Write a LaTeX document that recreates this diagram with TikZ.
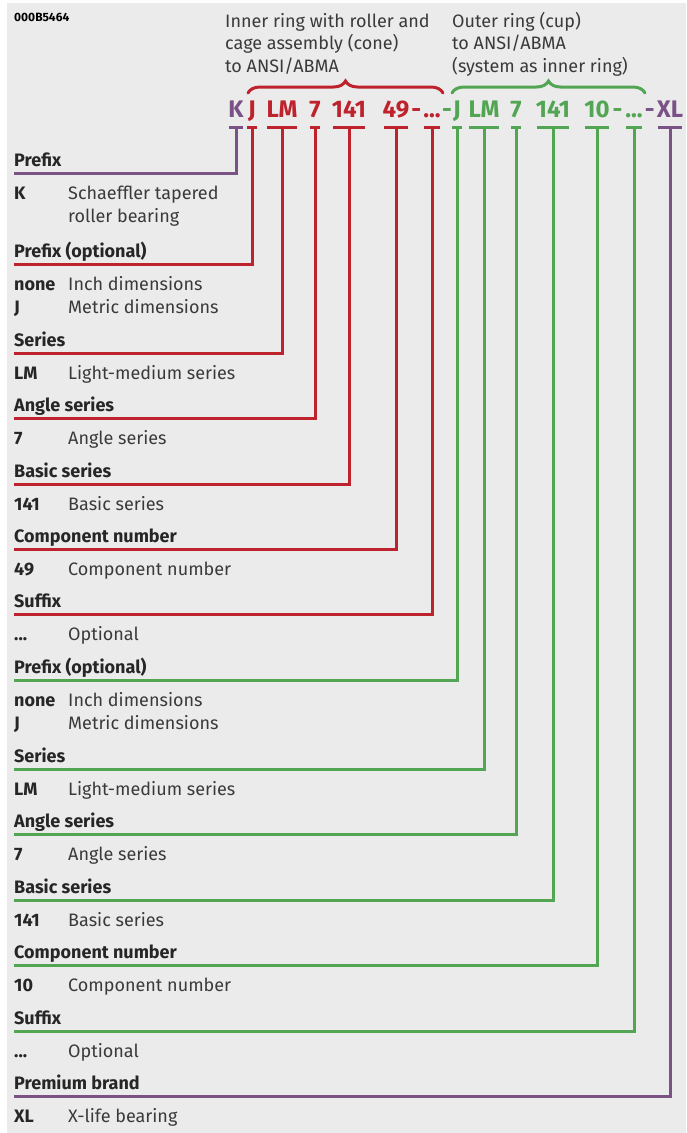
\documentclass[tikz,border=0pt]{standalone}
\usepackage{fontspec}
\setmainfont{Fira Sans}
\usetikzlibrary{positioning, calc, decorations.pathreplacing}

\definecolor{bgGray}{HTML}{EBEBEB}
\definecolor{txtDark}{HTML}{262626}
\definecolor{txtBody}{HTML}{3A3A3A}
\definecolor{ringRed}{HTML}{BE232D}
\definecolor{ringGreen}{HTML}{52A552}
\definecolor{brandPurple}{HTML}{7A5285}

\tikzset{
  tok/.style={font=\fontsize{24}{30}\selectfont\bfseries, inner sep=0pt, anchor=base, text height=17pt, text depth=0pt},
  head/.style={font=\fontsize{18}{23}\selectfont\bfseries, text=txtDark, inner sep=0pt, anchor=base west},
  key/.style={font=\fontsize{18}{23}\selectfont\bfseries, text=txtDark, inner sep=0pt, anchor=base west},
  desc/.style={font=\fontsize{18}{23}\selectfont, text=txtBody, inner sep=0pt, anchor=base west, align=left},
  note/.style={font=\fontsize{18}{22.5}\selectfont, text=txtBody, inner sep=0pt, anchor=base west, align=left},
  lead/.style={line width=3pt},
  curly/.style={line width=3pt, line cap=round, decorate, decoration={brace, amplitude=12pt}},
}

\begin{document}
\begin{tikzpicture}[x=1pt, y=-1pt]
\useasboundingbox (0,0) rectangle (686,1133);
\fill[bgGray] (7,3) rectangle (686,1133);

% drawing number
\node[font=\fontsize{12}{14}\selectfont\bfseries, inner sep=0pt, anchor=base west] (code) at (14,21) {000B5464};

% group texts and braces (base = last line)
\node[note] (innerTxt) at (225,72) {Inner ring with roller and\\cage assembly (cone)\\to ANSI/ABMA};
\node[note] (outerTxt) at (452,72) {Outer ring (cup)\\to ANSI/ABMA\\(system as inner ring)};
\draw[curly, ringRed] (248,93) -- (443,93);
\draw[curly, ringGreen] (452,93) -- (645,93);

% designation
\node[tok, brandPurple] (pK) at (236,117) {K};
\node[tok, ringRed] (iJ) at (252,117) {J};
\node[tok, ringRed] (iLM) at (282,117) {LM};
\node[tok, ringRed] (i7) at (315,117) {7};
\node[tok, ringRed] (i141) at (349,117) {141};
\node[tok, ringRed] (i49) at (396,117) {49};
\node[tok, ringRed] (iSfx) at (432,117) {...};
\node[tok, ringGreen] (oJ) at (457,117) {J};
\node[tok, ringGreen] (oLM) at (484,117) {LM};
\node[tok, ringGreen] (o7) at (516,117) {7};
\node[tok, ringGreen] (o141) at (553,117) {141};
\node[tok, ringGreen] (o10) at (597,117) {10};
\node[tok, ringGreen] (oSfx) at (634,117) {...};
\node[tok, brandPurple] (pXL) at (670,117) {XL};
\node[tok, ringRed] (dash1) at ($(i49.base east)!0.5!(iSfx.base west)$) {-};
\node[tok, ringGreen] (dash2) at ($(iSfx.base east)!0.5!(oJ.base west)$) {-};
\node[tok, ringGreen] (dash3) at ($(o10.base east)!0.5!(oSfx.base west)$) {-};
\node[tok, brandPurple] (dash4) at ($(oSfx.base east)!0.5!(pXL.base west)$) {-};

% legend: inner ring part
\node[head] (h1) at (14,166) {Prefix};
\node[key] (k1) at (14,199) {K};
\node[desc] (d1) at (68,222) {Schaeffler tapered\\roller bearing};

\node[head] (h2) at (14,257) {Prefix (optional)};
\node[key] (k2) at (14,290) {none};
\node[desc] (d2) at (68,290) {Inch dimensions};
\node[key] (k2b) at (14,313) {J};
\node[desc] (d2b) at (68,313) {Metric dimensions};

\node[head] (h3) at (14,346) {Series};
\node[key] (k3) at (14,379) {LM};
\node[desc] (d3) at (68,379) {Light-medium series};

\node[head] (h4) at (14,411) {Angle series};
\node[key] (k4) at (14,444) {7};
\node[desc] (d4) at (68,444) {Angle series};

\node[head] (h5) at (14,477) {Basic series};
\node[key] (k5) at (14,510) {141};
\node[desc] (d5) at (68,510) {Basic series};

\node[head] (h6) at (14,542) {Component number};
\node[key] (k6) at (14,575) {49};
\node[desc] (d6) at (68,575) {Component number};

\node[head] (h7) at (14,607) {Suffix};
\node[key] (k7) at (14,640) {...};
\node[desc] (d7) at (68,640) {Optional};

% legend: outer ring part
\node[head] (h8) at (14,673) {Prefix (optional)};
\node[key] (k8) at (14,706) {none};
\node[desc] (d8) at (68,706) {Inch dimensions};
\node[key] (k8b) at (14,729) {J};
\node[desc] (d8b) at (68,729) {Metric dimensions};

\node[head] (h9) at (14,762) {Series};
\node[key] (k9) at (14,795) {LM};
\node[desc] (d9) at (68,795) {Light-medium series};

\node[head] (h10) at (14,827) {Angle series};
\node[key] (k10) at (14,860) {7};
\node[desc] (d10) at (68,860) {Angle series};

\node[head] (h11) at (14,893) {Basic series};
\node[key] (k11) at (14,926) {141};
\node[desc] (d11) at (68,926) {Basic series};

\node[head] (h12) at (14,958) {Component number};
\node[key] (k12) at (14,991) {10};
\node[desc] (d12) at (68,991) {Component number};

\node[head] (h13) at (14,1024) {Suffix};
\node[key] (k13) at (14,1057) {...};
\node[desc] (d13) at (68,1057) {Optional};

\node[head] (h14) at (14,1089) {Premium brand};
\node[key] (k14) at (14,1122) {XL};
\node[desc] (d14) at (68,1122) {X-life bearing};

% underline bars and leader lines
\draw[lead, brandPurple] ([xshift=1pt,yshift=-10pt]pK.south west) -- ([xshift=-1pt,yshift=-10pt]pK.south east) ([yshift=-10pt]pK.south) |- ([yshift=-7pt]h1.base west);
\draw[lead, ringRed] ([xshift=-1pt,yshift=-10pt]iJ.south west) -- ([xshift=1pt,yshift=-10pt]iJ.south east) ([yshift=-10pt]iJ.south) |- ([yshift=-7pt]h2.base west);
\draw[lead, ringRed] ([xshift=1pt,yshift=-10pt]iLM.south west) -- ([xshift=-1pt,yshift=-10pt]iLM.south east) ([yshift=-10pt]iLM.south) |- ([yshift=-7pt]h3.base west);
\draw[lead, ringRed] ([xshift=1pt,yshift=-10pt]i7.south west) -- ([xshift=-1pt,yshift=-10pt]i7.south east) ([yshift=-10pt]i7.south) |- ([yshift=-7pt]h4.base west);
\draw[lead, ringRed] ([xshift=1pt,yshift=-10pt]i141.south west) -- ([xshift=-1pt,yshift=-10pt]i141.south east) ([yshift=-10pt]i141.south) |- ([yshift=-7pt]h5.base west);
\draw[lead, ringRed] ([xshift=1pt,yshift=-10pt]i49.south west) -- ([xshift=-1pt,yshift=-10pt]i49.south east) ([yshift=-10pt]i49.south) |- ([yshift=-7pt]h6.base west);
\draw[lead, ringRed] ([xshift=1pt,yshift=-10pt]iSfx.south west) -- ([xshift=-1pt,yshift=-10pt]iSfx.south east) ([yshift=-10pt]iSfx.south) |- ([yshift=-7pt]h7.base west);
\draw[lead, ringGreen] ([xshift=-1pt,yshift=-10pt]oJ.south west) -- ([xshift=1pt,yshift=-10pt]oJ.south east) ([yshift=-10pt]oJ.south) |- ([yshift=-7pt]h8.base west);
\draw[lead, ringGreen] ([xshift=1pt,yshift=-10pt]oLM.south west) -- ([xshift=-1pt,yshift=-10pt]oLM.south east) ([yshift=-10pt]oLM.south) |- ([yshift=-7pt]h9.base west);
\draw[lead, ringGreen] ([xshift=1pt,yshift=-10pt]o7.south west) -- ([xshift=-1pt,yshift=-10pt]o7.south east) ([yshift=-10pt]o7.south) |- ([yshift=-7pt]h10.base west);
\draw[lead, ringGreen] ([xshift=1pt,yshift=-10pt]o141.south west) -- ([xshift=-1pt,yshift=-10pt]o141.south east) ([yshift=-10pt]o141.south) |- ([yshift=-7pt]h11.base west);
\draw[lead, ringGreen] ([xshift=1pt,yshift=-10pt]o10.south west) -- ([xshift=-1pt,yshift=-10pt]o10.south east) ([yshift=-10pt]o10.south) |- ([yshift=-7pt]h12.base west);
\draw[lead, ringGreen] ([xshift=1pt,yshift=-10pt]oSfx.south west) -- ([xshift=-1pt,yshift=-10pt]oSfx.south east) ([yshift=-10pt]oSfx.south) |- ([yshift=-7pt]h13.base west);
\draw[lead, brandPurple] ([xshift=1pt,yshift=-10pt]pXL.south west) -- ([xshift=-1pt,yshift=-10pt]pXL.south east) ([yshift=-10pt]pXL.south) |- ([yshift=-7pt]h14.base west);
\end{tikzpicture}
\end{document}
